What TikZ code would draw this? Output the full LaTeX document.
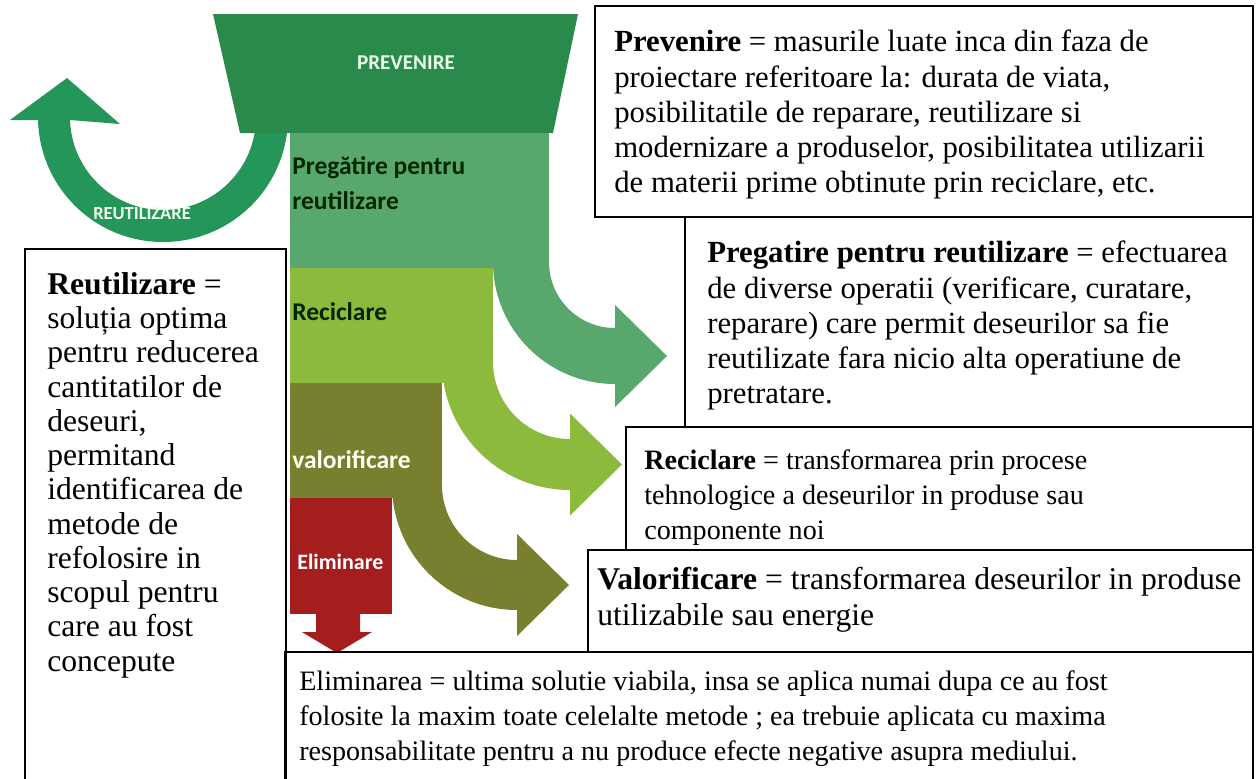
\documentclass[tikz,border=0pt]{standalone}
\usepackage{fontspec}
\setmainfont{Liberation Serif}
\newfontfamily\labelfont{Carlito}
\usetikzlibrary{positioning, fit}

\definecolor{prevgreen}{HTML}{2A8A4B}
\definecolor{reusegreen}{HTML}{24965A}
\definecolor{preggreen}{HTML}{58A86E}
\definecolor{recigreen}{HTML}{8CBA3C}
\definecolor{valolive}{HTML}{788030}
\definecolor{elimred}{HTML}{A51E1E}

\begin{document}
\begin{tikzpicture}[
                x=0.02cm, y=-0.02cm,
                infobox/.style={draw=black, line width=1.2pt, rectangle, inner sep=0pt},
                infotext/.style={anchor=north west, align=left, inner sep=0pt, font=\fontsize{16}{20}\selectfont},
                stagelabel/.style={anchor=west, align=left, inner sep=0pt, font=\labelfont\bfseries\fontsize{14.5}{20}\selectfont},
            ]
                \useasboundingbox (0,0) rectangle (1256,778);

                % Draw the reuse arrow behind the funnel
                \fill[reusegreen] (256,125) -- (256,117) arc[start angle=0, end angle=180, radius=93]
                    -- (70,120) -- (120,124) -- (67,78) -- (10,120) -- (38,120)
                    -- (38,117) arc[start angle=180, end angle=0, radius=125] -- (288,125) -- cycle;

                % Draw the funnel stages
                \fill[prevgreen] (213,14) -- (578,14) -- (553,133) -- (240,133) -- cycle;
                \fill[preggreen] (290,133) rectangle (549,268);
                \fill[recigreen] (290,268) rectangle (493,383);
                \fill[valolive] (290,383) rectangle (442,498);
                \fill[elimred] (290,498) rectangle (392,614);
                \fill[elimred] (316,612) -- (360,612) -- (360,632) -- (372,632)
                    -- (337,653) -- (302,632) -- (316,632) -- cycle;

                % Curved arrows leaving the funnel to the right
                \foreach \ix / \ox / \cx / \cy / \col in {493/549/615/262/preggreen, 442/493/570/362/recigreen, 392/442/517/485/valolive}{
                    \pgfmathsetmacro\rout{\cx-\ox}
                    \pgfmathsetmacro\rin{\cx-\ix}
                    \pgfmathsetmacro\ymid{\cy+(\rout+\rin)/2}
                    \fill[\col] (\ox,\cy) arc[start angle=180, end angle=90, radius=\rout]
                        -- (\cx,\ymid-51) -- (\cx+52,\ymid) -- (\cx,\ymid+51)
                        -- (\cx,\cy+\rin) arc[start angle=90, end angle=180, radius=\rin] -- cycle;
                }

                % Labels on the funnel
                \node[stagelabel, anchor=center, text=green!8, font=\labelfont\bfseries\fontsize{12}{14}\selectfont] (prevlabel) at (406,63) {PREVENIRE};
                \node[stagelabel, text=black!85!green] (preglabel) at (292,183) {Pregătire pentru\\reutilizare};
                \node[stagelabel, text=black!85!green] (recilabel) at (292,312) {Reciclare};
                \node[stagelabel, text=yellow!5] (valolabel) at (292,460) {valorificare};
                \node[stagelabel, text=white, font=\labelfont\bfseries\fontsize{12.5}{15}\selectfont] (elimlabel) at (297,562) {Eliminare};
                \node[stagelabel, anchor=center, text=green!6, font=\labelfont\bfseries\fontsize{10.5}{12}\selectfont] (reutlabel) at (142,214) {REUTILIZARE};

                % Draw the explanation boxes
                \node[infobox, fit={(595,6) (1253,217)}] (prevbox) {};
                \node[infobox, fit={(685,217) (1253,427)}] (pregbox) {};
                \node[infobox, fit={(626,427) (1253,550)}] (recibox) {};
                \node[infobox, fit={(588,550) (1253,652)}] (valobox) {};
                \node[infobox, fit={(285,652) (1253,800)}] (elimbox) {};
                \node[infobox, fit={(25,249) (286,800)}] (reutbox) {};

                % Texts of the boxes
                \node[infotext, font=\fontsize{17.5}{20}\selectfont] (prevtext) at ([shift={(20,25)}]prevbox.north west)
                    {\textbf{Prevenire} = masurile luate inca din faza de\\
                    proiectare referitoare la: durata de viata,\\
                    posibilitatile de reparare, reutilizare si\\
                    modernizare a produselor, posibilitatea utilizarii\\
                    de materii prime obtinute prin reciclare, etc.};
                \node[infotext, font=\fontsize{17.5}{20}\selectfont] (pregtext) at ([shift={(23,25)}]pregbox.north west)
                    {\textbf{Pregatire pentru reutilizare} = efectuarea\\
                    de diverse operatii (verificare, curatare,\\
                    reparare) care permit deseurilor sa fie\\
                    reutilizate fara nicio alta operatiune de\\
                    pretratare.};
                \node[infotext] (recitext) at ([shift={(19,23)}]recibox.north west)
                    {\textbf{Reciclare} = transformarea prin procese\\
                    tehnologice a deseurilor in produse sau\\
                    componente noi};
                \node[infotext, font=\fontsize{18}{20.5}\selectfont] (valotext) at ([shift={(10,18)}]valobox.north west)
                    {\textbf{Valorificare} = transformarea deseurilor in produse\\
                    utilizabile sau energie};
                \node[infotext] (elimtext) at ([shift={(15,19)}]elimbox.north west)
                    {Eliminarea = ultima solutie viabila, insa se aplica numai dupa ce au fost\\
                    folosite la maxim toate celelalte metode ; ea trebuie aplicata cu maxima\\
                    responsabilitate pentru a nu produce efecte negative asupra mediului.};
                \node[infotext, font=\fontsize{18}{19.5}\selectfont] (reuttext) at ([shift={(23,24)}]reutbox.north west)
                    {\textbf{Reutilizare} =\\ soluția optima\\ pentru reducerea\\ cantitatilor de\\ deseuri,\\
                    permitand\\ identificarea de\\ metode de\\ refolosire in\\ scopul pentru\\ care au fost\\ concepute};
            \end{tikzpicture}
\end{document}
